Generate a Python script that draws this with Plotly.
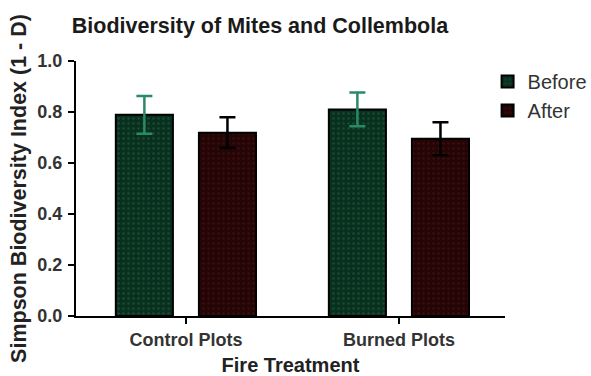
import plotly.graph_objects as go

categories = ["Control Plots", "Burned Plots"]
before_vals = [0.789, 0.810]
before_err = [0.074, 0.066]
after_vals = [0.719, 0.695]
after_err = [0.060, 0.065]

FONT = "Arial, Liberation Sans, Helvetica, sans-serif"

fig = go.Figure()
fig.add_trace(go.Bar(
    name="Before", x=categories, y=before_vals,
    offset=-0.329, width=0.268,
    marker=dict(color="#08301e", line=dict(color="black", width=2),
                pattern=dict(shape=".", fgcolor="#2c6248", bgcolor="#08301e", size=5, solidity=0.2)),
    error_y=dict(type="data", array=before_err, visible=True, color="#2b8a66", thickness=2.5, width=8),
))
fig.add_trace(go.Bar(
    name="After", x=categories, y=after_vals,
    offset=0.061, width=0.268,
    marker=dict(color="#240405", line=dict(color="black", width=2),
                pattern=dict(shape=".", fgcolor="#4a1a1a", bgcolor="#240405", size=5, solidity=0.2)),
    error_y=dict(type="data", array=after_err, visible=True, color="black", thickness=2.5, width=8),
))

fig.update_layout(
    width=591, height=376,
    margin=dict(l=76, r=86, t=61, b=60, autoexpand=False),
    paper_bgcolor="white", plot_bgcolor="white",
    font=dict(family=FONT, color="#222222"),
    title=dict(text="<b>Biodiversity of Mites and Collembola</b>", x=260/591, xanchor="center",
               y=1 - 25/376, yanchor="middle", font=dict(size=21.5, color="#1a1a1a")),
    showlegend=True,
    legend=dict(xref="container", yref="container", x=0.825, y=0.835, xanchor="left", yanchor="top",
                font=dict(size=20, color="#333333"), bgcolor="rgba(0,0,0,0)", tracegroupgap=0),
    barmode="overlay",
)
fig.update_xaxes(
    range=[-0.516, 1.498], showline=True, linecolor="black", linewidth=2, automargin=False,
    ticks="outside", ticklen=6, tickwidth=2, tickcolor="black",
    tickfont=dict(size=18, color="#333333", family=FONT), showgrid=False,
    title=dict(text="<b>Fire Treatment</b>", font=dict(size=20, color="#222222"), standoff=10),
)
fig.update_yaxes(
    range=[0, 1.0], dtick=0.2, tickformat=".1f", showline=True, linecolor="black", linewidth=2,
    automargin=False,
    ticks="outside", ticklen=6, tickwidth=2, tickcolor="black", ticklabelstandoff=2,
    tickfont=dict(size=18, color="#333333", family=FONT), showgrid=False, zeroline=False,
    title=dict(text="<b>Simpson Biodiversity Index (1 - D)</b>", font=dict(size=21.5, color="#222222"), standoff=5),
)
fig.update_xaxes(tickprefix="<b>", ticksuffix="</b>")
fig.update_yaxes(tickprefix="<b>", ticksuffix="</b>")

fig.write_html("out.html", config={"displayModeBar": False},
               post_script="document.body.style.margin='0';")
